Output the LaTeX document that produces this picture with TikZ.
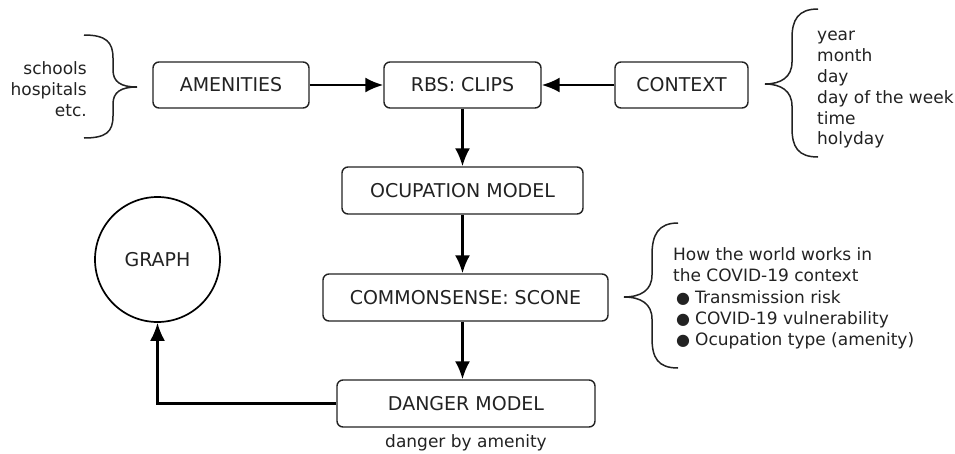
\documentclass[tikz,border=0pt]{standalone}
\usepackage{fontspec}
\setmainfont{DejaVu Sans}
\usetikzlibrary{arrows.meta}
\definecolor{ink}{HTML}{222222}
\begin{document}
\begin{tikzpicture}[x=1pt,y=-1pt,
  box/.style={draw=ink,line width=1.4pt,rounded corners=6pt,inner sep=0pt,
    text=ink,font=\fontsize{19}{22}\selectfont,minimum height=46pt},
  conn/.style={draw=black,line width=2.3pt,-{Latex[length=18pt,width=15pt]}},
  brace/.style={draw=ink,line width=1.5pt},
  lbl/.style={text=ink,font=\fontsize{17}{21}\selectfont,inner sep=0pt}]
\useasboundingbox (0,0) rectangle (955,453);
\node[box,minimum width=156pt] (amen) at (231,85) {AMENITIES};
\node[box,minimum width=157pt] (rbs) at (462.5,85) {RBS: CLIPS};
\node[box,minimum width=133pt] (ctx) at (681.5,85) {CONTEXT};
\node[box,minimum width=241pt,minimum height=47pt] (ocup) at (462.5,190.5) {OCUPATION MODEL};
\node[box,minimum width=285pt,minimum height=47pt] (common) at (465.5,297.5) {COMMONSENSE: SCONE};
\node[box,minimum width=258pt,minimum height=47pt] (danger) at (466,403.5) {DANGER MODEL};
\node[draw=black,line width=1.7pt,circle,minimum size=125pt,inner sep=0pt,text=ink,
  font=\fontsize{19}{22}\selectfont] (graph) at (157.5,259.5) {GRAPH};
\node[lbl] (dlbl) at (466,443) {danger by amenity};

\draw[conn] (amen.east) -- (rbs.west);
\draw[conn] (ctx.west) -- (rbs.east);
\draw[conn] (rbs.south) -- (ocup.north);
\draw[conn] (ocup.south) -- (ocup.south |- common.north);
\draw[conn] (ocup.south |- common.south) -- (ocup.south |- danger.north);
\draw[conn] (danger.west) -| (graph.south);

% left brace
\draw[brace] (84,35) .. controls (106,35) and (113,42) .. (113,58) -- (113,70)
  .. controls (113,82) and (121,87) .. (137,87)
  .. controls (121,87) and (113,92) .. (113,104) -- (113,116)
  .. controls (113,132) and (106,138) .. (84,138);
\node[lbl,align=right,anchor=east] (amlist) at (87,89) {schools\\hospitals\\etc.};

% top right brace
\draw[brace] (818,9) .. controls (798,9) and (792,20) .. (792,38) -- (792,62)
  .. controls (792,77) and (781,84) .. (765,84)
  .. controls (781,84) and (792,91) .. (792,106) -- (792,128)
  .. controls (792,147) and (798,157) .. (818,157);
\node[lbl,align=left,anchor=west,font=\fontsize{17}{20.8}\selectfont] (ctxlist) at (817,90)
  {year\\month\\day\\day of the week\\time\\holyday};

% bottom right brace
\draw[brace] (678,223) .. controls (658,223) and (652,235) .. (652,255) -- (652,275)
  .. controls (652,290) and (641,297) .. (624,297)
  .. controls (641,297) and (652,304) .. (652,319) -- (652,338)
  .. controls (652,358) and (658,368) .. (678,368);
\node[lbl,align=left,anchor=west,font=\fontsize{17}{21.25}\selectfont] (world) at (673,298.5)
  {How the world works in\\the COVID-19 context\\
   \hspace*{3pt}{\fontsize{16}{16}\selectfont ●}\hspace{5pt}Transmission risk\\
   \hspace*{3pt}{\fontsize{16}{16}\selectfont ●}\hspace{5pt}COVID-19 vulnerability\\
   \hspace*{3pt}{\fontsize{16}{16}\selectfont ●}\hspace{5pt}Ocupation type (amenity)};
\end{tikzpicture}
\end{document}
